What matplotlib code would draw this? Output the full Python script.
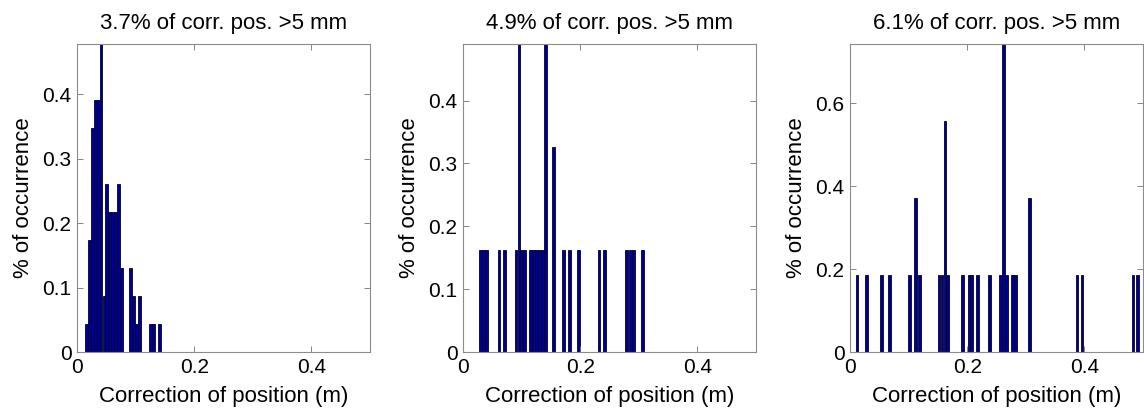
import matplotlib.pyplot as plt

plt.rcParams['font.family'] = ['Liberation Sans', 'DejaVu Sans']

# bin centres (m) and heights (% of occurrence)
titles = ['3.7% of corr. pos. >5 mm', '4.9% of corr. pos. >5 mm', '6.1% of corr. pos. >5 mm']

x1 = [0.016, 0.021, 0.026, 0.031, 0.036, 0.041, 0.046, 0.051, 0.056, 0.061,
      0.066, 0.071, 0.076, 0.091, 0.096, 0.101, 0.106, 0.126, 0.131, 0.141]
h1 = [0.043, 0.174, 0.348, 0.391, 0.391, 0.478, 0.087, 0.261, 0.217, 0.217,
      0.217, 0.261, 0.130, 0.130, 0.087, 0.043, 0.087, 0.043, 0.043, 0.043]

x2 = [0.0305, 0.0355, 0.0405, 0.0615, 0.0715, 0.0905, 0.0955, 0.1005, 0.1055,
      0.1155, 0.1205, 0.1255, 0.1305, 0.1355, 0.1405, 0.155, 0.171, 0.182,
      0.197, 0.232, 0.241, 0.2785, 0.2865, 0.2915, 0.306]
h2 = [0.163, 0.163, 0.163, 0.163, 0.163, 0.163, 0.490, 0.163, 0.163,
      0.163, 0.163, 0.163, 0.163, 0.163, 0.490, 0.326, 0.163, 0.163,
      0.163, 0.163, 0.163, 0.163, 0.163, 0.163, 0.163]

x3 = [0.012, 0.028, 0.0535, 0.0675, 0.1015, 0.112, 0.118, 0.152, 0.157, 0.162,
      0.167, 0.192, 0.203, 0.208, 0.218, 0.238, 0.2575, 0.2625, 0.2675, 0.2775,
      0.2825, 0.307, 0.3875, 0.396, 0.483, 0.491]
h3 = [0.186, 0.186, 0.186, 0.186, 0.186, 0.372, 0.186, 0.186, 0.186, 0.557,
      0.186, 0.186, 0.186, 0.186, 0.186, 0.186, 0.186, 0.743, 0.186, 0.186,
      0.186, 0.372, 0.186, 0.186, 0.186, 0.186]

ytops = [0.478, 0.490, 0.743]
yticks = [[0, 0.1, 0.2, 0.3, 0.4], [0, 0.1, 0.2, 0.3, 0.4], [0, 0.2, 0.4, 0.6]]
xticks = [0, 0.2, 0.4]

lefts = [77, 463, 850]
fig = plt.figure(figsize=(11.44, 4.15), dpi=100)

for i, (xs, hs) in enumerate([(x1, h1), (x2, h2), (x3, h3)]):
    ax = fig.add_axes([lefts[i] / 1144, 63 / 415, 293 / 1144, 308 / 415])
    ax.bar(xs, hs, width=0.0048, color='#000090', edgecolor='#000030', linewidth=0.6)
    ax.set_xlim(0, 0.5)
    ax.set_ylim(0, ytops[i])
    ax.set_xticks(xticks)
    ax.set_xticklabels(['0', '0.2', '0.4'])
    ax.set_yticks(yticks[i])
    ax.set_yticklabels(['0' if v == 0 else f'{v:g}' for v in yticks[i]])
    ax.tick_params(direction='in', length=4, width=0.6, color='0.45',
                   labelsize=15, top=True, right=True)
    ax.tick_params(axis='x', pad=4)
    ax.tick_params(axis='y', pad=4)
    for s in ax.spines.values():
        s.set_color('0.55')
        s.set_linewidth(0.8)
    ax.set_title(titles[i], fontsize=16, pad=11)
    ax.set_xlabel('Correction of position (m)', fontsize=16, labelpad=7)
    ax.set_ylabel('% of occurrence', fontsize=16, labelpad=6)

fig.savefig('out.png', dpi=100)
